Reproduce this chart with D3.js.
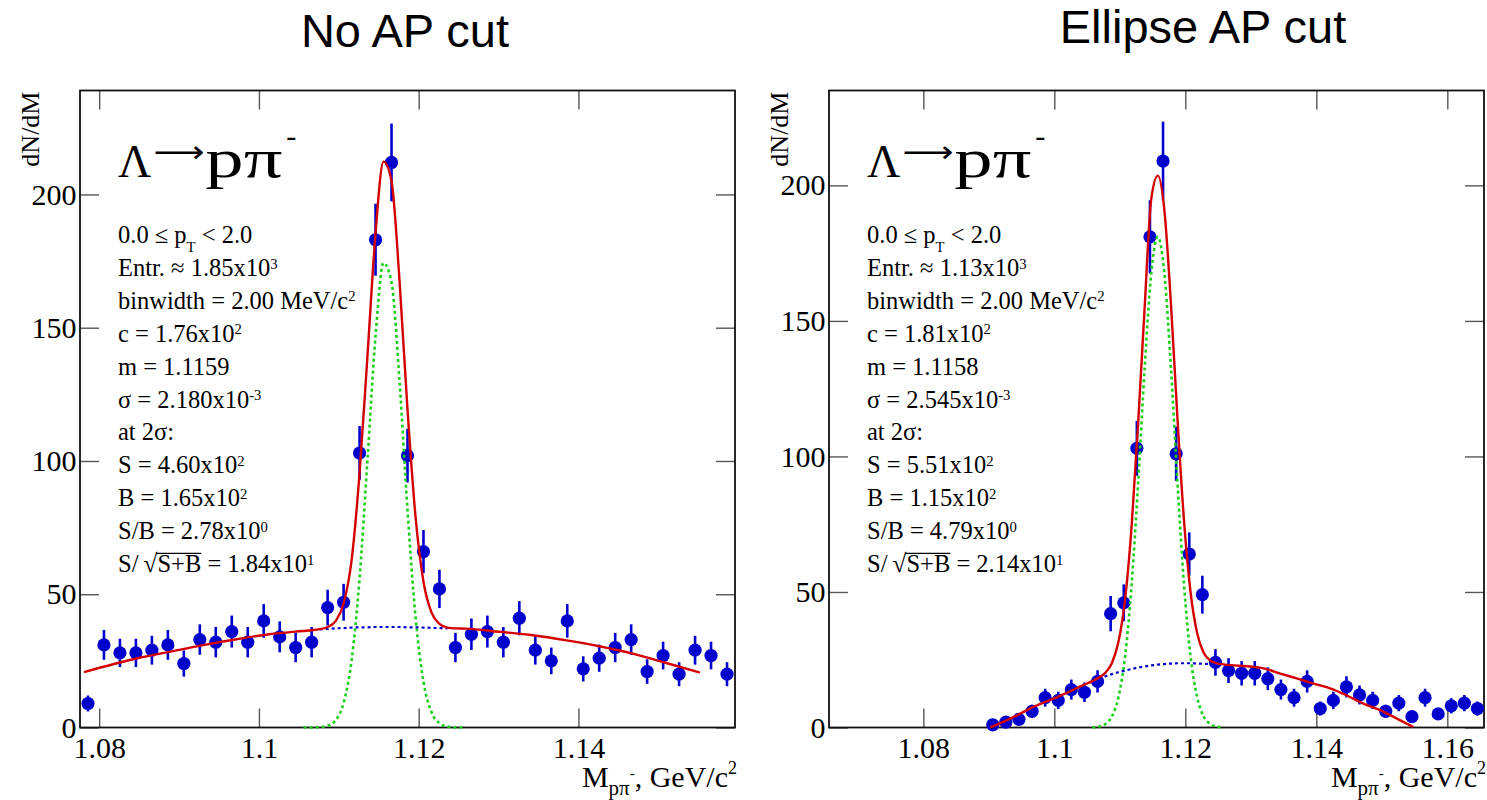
<!DOCTYPE html>
<html><head><meta charset="utf-8">
<script src="https://cdn.jsdelivr.net/npm/d3@7"></script>
<style>body{margin:0;background:#fff}text{white-space:pre}</style>
</head><body>
<svg id="c" width="1487" height="800"></svg>
<script>
// ---------------- data ----------------
const yTicks = [0, 50, 100, 150, 200];
const leftXTicks = [1.08, 1.1, 1.12, 1.14];
const rightXTicks = [1.08, 1.1, 1.12, 1.14, 1.16];

const leftCenters = [1.0786,1.0806,1.0826,1.0846,1.0866,1.0886,1.0906,1.0926,1.0946,1.0966,1.0986,1.1006,1.1026,1.1046,1.1066,1.1086,1.1106,1.1126,1.1146,1.1166,1.1186,1.1206,1.1226,1.1246,1.1266,1.1286,1.1306,1.1326,1.1346,1.1366,1.1386,1.1406,1.1426,1.1446,1.1466,1.1486,1.1506,1.1526,1.1546,1.1566,1.1586];
const leftCounts = [9,31,28,28,29,31,24,33,32,36,32,40,34,30,32,45,47,103,183,212,102,66,52,30,35,36,32,41,29,25,40,22,26,30,33,21,27,20,29,27,20];
const leftErrors = [3,5.6,5.3,5.3,5.4,5.6,4.9,5.7,5.7,6,5.7,6.3,5.8,5.5,5.7,6.7,6.9,10.1,13.5,14.6,10.1,8.1,7.2,5.5,5.9,6,5.7,6.4,5.4,5,6.3,4.7,5.1,5.5,5.7,4.6,5.2,4.5,5.4,5.2,4.5];

const rightCenters = [1.0906,1.0926,1.0946,1.0966,1.0986,1.1006,1.1026,1.1046,1.1066,1.1086,1.1106,1.1126,1.1146,1.1166,1.1186,1.1206,1.1226,1.1246,1.1266,1.1286,1.1306,1.1326,1.1346,1.1366,1.1386,1.1406,1.1426,1.1446,1.1466,1.1486,1.1506,1.1526,1.1546,1.1566,1.1586,1.1606,1.1626,1.1646];
const rightCounts = [1,2,3,6,11,10,14,13,17,42,46,103,181,209,101,64,49,24,21,20,20,18,14,11,17,7,10,15,12,10,6,9,4,11,5,8,9,7];
const rightErrors = [1,1.4,1.7,2.4,3.3,3.2,3.7,3.6,4.1,6.5,6.8,10.1,13.5,14.5,10,8,7,4.9,4.6,4.5,4.5,4.2,3.7,3.3,4.1,2.6,3.2,3.9,3.5,3.2,2.4,3,2,3.3,2.2,2.8,3,2.6];

// fit curves
const redLeftX = [1.0781,1.0847,1.0888,1.0930,1.0972,1.1013,1.1055,1.1066,1.1076,1.1086,1.1096,1.1106,1.1116,1.1126,1.1136,1.1146,1.1156,1.1166,1.1176,1.1186,1.1196,1.1206,1.1216,1.1226,1.1236,1.1246,1.1259,1.1301,1.1343,1.1385,1.1426,1.1468,1.1510,1.1552];
const redLeftY = [20.8,25.9,28.4,30.9,33.1,35.0,36.2,36.5,36.9,37.7,39.9,46.5,62.7,95.5,140,185.5,212.3,205,167.7,119.3,79.3,54.7,43.2,38.9,37.5,37.2,37.1,35.9,34.6,32.7,30.5,27.7,24.2,20.6];
const greenLeftX = [1.1056,1.1066,1.1076,1.1086,1.1096,1.1106,1.1116,1.1126,1.1136,1.1146,1.1156,1.1166,1.1176,1.1186,1.1196,1.1206,1.1216,1.1226,1.1236,1.1246,1.1256];
const greenLeftY = [0,0.02,0.12,0.65,2.7,9.2,25.2,56,100.9,147,174.3,167,130,81.7,41.7,17.2,5.8,1.6,0.34,0.06,0];
const blueLeftX = [1.1076,1.1086,1.1096,1.1106,1.1116,1.1126,1.1136,1.1146,1.1156,1.1166,1.1176,1.1186,1.1196,1.1206,1.1216,1.1226,1.1236];
const blueLeftY = [36.8,37.0,37.2,37.3,37.5,37.6,37.6,37.7,37.7,37.7,37.7,37.6,37.6,37.5,37.4,37.3,37.2];

const redRightX = [1.0902,1.0907,1.0943,1.0968,1.0993,1.1019,1.1044,1.1058,1.1068,1.1078,1.1088,1.1098,1.1108,1.1118,1.1128,1.1138,1.1148,1.1158,1.1168,1.1178,1.1188,1.1198,1.1208,1.1218,1.1228,1.1238,1.1248,1.1258,1.1269,1.1294,1.1320,1.1345,1.1370,1.1396,1.1421,1.1446,1.1472,1.1497,1.1523,1.1548];
const redRightY = [0,0.5,4.5,7.6,10.1,12.8,15.6,17.1,18.4,20.2,23.8,31.7,47.2,74.2,112.4,155.4,195,203.6,191,156.5,114,76.3,49.9,34.9,27.6,24.7,23.65,23.3,23.0,22.6,21.8,19.9,18.1,16.2,14.4,11.9,8.8,6.4,3.3,0.2];
const greenRightX = [1.1058,1.1068,1.1078,1.1088,1.1098,1.1108,1.1118,1.1128,1.1138,1.1148,1.1158,1.1168,1.1178,1.1188,1.1198,1.1208,1.1218,1.1228,1.1238,1.1248,1.1258];
const greenRightY = [0.08,0.35,1.3,4.1,11.3,26.2,52.6,90.3,132.9,167.6,181,167.6,132.9,90.3,52.6,26.2,11.3,4.1,1.3,0.35,0.08];
const blueRightX = [1.1068,1.1078,1.1088,1.1098,1.1108,1.1118,1.1128,1.1138,1.1148,1.1158,1.1168,1.1178,1.1188,1.1198,1.1208,1.1218,1.1228,1.1238,1.1248];
const blueRightY = [18.0,18.9,19.7,20.4,21.0,21.6,22.1,22.5,22.9,23.2,23.4,23.6,23.7,23.7,23.7,23.6,23.5,23.4,23.3];

// text
const leftTitle = "No AP cut";
const rightTitle = "Ellipse AP cut";
const yTitle = "dN/dM";
const xTitleParts = ["M", ["pπ","sub"], ["-","subsup"], ", GeV/c", ["2","sup"]];
const decayHead = "Λ", decayArrow = "⟶", decayTail = "pπ", decaySup = "-";
const leftStats = [
  ["0.0 ≤ p", ["T","sub"], " < 2.0"],
  ["Entr. ≈ 1.85x10", ["3","sup"]],
  ["binwidth = 2.00 MeV/c", ["2","sup"]],
  ["c = 1.76x10", ["2","sup"]],
  ["m = 1.1159"],
  ["σ = 2.180x10", ["-3","sup"]],
  ["at 2σ:"],
  ["S = 4.60x10", ["2","sup"]],
  ["B = 1.65x10", ["2","sup"]],
  ["S/B = 2.78x10", ["0","sup"]],
  ["S/\u2009", ["√","rad"], ["S+B","ovl"], " = 1.84x10", ["1","sup"]]
];
const rightStats = [
  ["0.0 ≤ p", ["T","sub"], " < 2.0"],
  ["Entr. ≈ 1.13x10", ["3","sup"]],
  ["binwidth = 2.00 MeV/c", ["2","sup"]],
  ["c = 1.81x10", ["2","sup"]],
  ["m = 1.1158"],
  ["σ = 2.545x10", ["-3","sup"]],
  ["at 2σ:"],
  ["S = 5.51x10", ["2","sup"]],
  ["B = 1.15x10", ["2","sup"]],
  ["S/B = 4.79x10", ["0","sup"]],
  ["S/\u2009", ["√","rad"], ["S+B","ovl"], " = 2.14x10", ["1","sup"]]
];

// ---------------- drawing ----------------
const SERIF = "'Liberation Serif','Times New Roman',Times,serif";
const SANS = "'Liberation Sans',Arial,Helvetica,sans-serif";
const svg = d3.select("#c");
const BLUE = "#0000cc", RED = "#d40000", GREEN = "#19d019";

function rich(sel, x, y, parts, size, o) {
  o = Object.assign({supS:0.6, supO:-0.3, subS:0.6, subO:0.38, ssS:0.5, ssO:-0.3, anchor:"start"}, o||{});
  const t = sel.append("text").attr("x", x).attr("y", y)
    .attr("font-family", SERIF).attr("font-size", size).attr("fill", "#000")
    .attr("text-anchor", o.anchor);
  let cur = 0; const ovl = [];
  parts.forEach(p => {
    const txt = typeof p === "string" ? p : p[0];
    const mode = typeof p === "string" ? "n" : p[1];
    let fs = size, off = 0;
    if (mode === "sup") { fs = size*o.supS; off = size*o.supO; }
    else if (mode === "sub") { fs = size*o.subS; off = size*o.subO; }
    else if (mode === "subsup") { fs = size*o.ssS; off = size*o.ssO; }
    else if (mode === "rad") { fs = size*1.05; off = 0; }
    const ts = t.append("tspan").attr("font-size", fs).attr("dy", off-cur).text(txt);
    cur = off;
    if (mode === "ovl") ovl.push(ts);
  });
  ovl.forEach(ts => {
    const n = ts.node(), L = ts.text().length;
    const x0 = n.getStartPositionOfChar(0).x - 1.5, x1 = n.getEndPositionOfChar(L-1).x;
    sel.append("line").attr("x1", x0).attr("x2", x1)
      .attr("y1", y - size*0.76).attr("y2", y - size*0.76)
      .attr("stroke", "#000").attr("stroke-width", 1.2);
  });
  return t;
}

function decay(x, y, size) {
  const a = svg.append("text").attr("x", x).attr("y", y).attr("font-family", SERIF)
    .attr("font-size", size).attr("fill", "#000").text(decayHead);
  let cx = x + a.node().getComputedTextLength() + 2;
  const arrowW = 51;
  const arr = svg.append("text").attr("x", 0).attr("y", 0)
    .attr("font-family", "'DejaVu Sans','DejaVu Serif',sans-serif")
    .attr("font-size", 30).attr("fill", "#000").text(decayArrow);
  const w = arr.node().getComputedTextLength() || arrowW;
  arr.attr("transform", `translate(${cx},${y - 15}) scale(${arrowW / w},1)`);
  cx += arrowW + 1;
  // product particles: drawn larger than Λ, as in the reference
  const tailW = 77;
  const t = svg.append("text").attr("x", 0).attr("y", 0).attr("font-family", SERIF)
    .attr("font-size", size * 1.2).attr("fill", "#000").text(decayTail);
  const tw = t.node().getComputedTextLength() || tailW;
  t.attr("transform", `translate(${cx},${y}) scale(${tailW / tw},1)`);
  cx += tailW + 4;
  svg.append("text").attr("x", cx).attr("y", y - 31).attr("font-family", SERIF)
    .attr("font-size", size * 0.66).attr("fill", "#000").text(decaySup);
}

function panel(cfg) {
  const g = svg.append("g");
  const x = d3.scaleLinear().domain(cfg.xDomain).range([cfg.fx0, cfg.fx1]);
  const y = d3.scaleLinear().domain([0, cfg.yMax]).range([cfg.fy1, cfg.fy0]);
  const TL = 19;

  const styleAxis = (a) => {
    a.select(".domain").remove();
    a.selectAll(".tick line").attr("stroke", "#555").attr("stroke-width", 1.4);
    a.selectAll(".tick text").attr("font-family", SERIF).attr("font-size", 30).attr("fill", "#000");
  };
  g.append("g").attr("transform", `translate(0,${cfg.fy1})`)
    .call(d3.axisBottom(x).tickValues(cfg.xTicks).tickSizeInner(-TL).tickSizeOuter(0).tickPadding(9).tickFormat(d => String(+d.toFixed(2))))
    .call(styleAxis);
  g.append("g").attr("transform", `translate(0,${cfg.fy0})`)
    .call(d3.axisTop(x).tickValues(cfg.xTicks).tickSizeInner(-TL).tickSizeOuter(0).tickFormat(""))
    .call(styleAxis);
  g.append("g").attr("transform", `translate(${cfg.fx0},0)`)
    .call(d3.axisLeft(y).tickValues(yTicks).tickSizeInner(-TL).tickSizeOuter(0).tickPadding(3.5))
    .call(styleAxis);
  g.append("g").attr("transform", `translate(${cfg.fx1},0)`)
    .call(d3.axisRight(y).tickValues(yTicks).tickSizeInner(-TL).tickSizeOuter(0).tickFormat(""))
    .call(styleAxis);

  g.append("rect").attr("x", cfg.fx0).attr("y", cfg.fy0)
    .attr("width", cfg.fx1-cfg.fx0).attr("height", cfg.fy1-cfg.fy0)
    .attr("fill", "none").attr("stroke", "#111").attr("stroke-width", 1.8);

  const pts = cfg.centers.map((c, i) => ({x: c, v: cfg.counts[i], e: cfg.errors[i]}));
  g.append("g").selectAll("line").data(pts).join("line")
    .attr("x1", d => x(d.x)).attr("x2", d => x(d.x))
    .attr("y1", d => y(d.v + d.e)).attr("y2", d => y(Math.max(0, d.v - d.e)))
    .attr("stroke", BLUE).attr("stroke-width", 2.6);
  g.append("g").selectAll("circle").data(pts).join("circle")
    .attr("cx", d => x(d.x)).attr("cy", d => y(d.v)).attr("r", 6.6).attr("fill", BLUE);

  const line = d3.line().x(d => x(d[0])).y(d => y(d[1])).curve(d3.curveMonotoneX);
  const zip = (a, b) => a.map((v, i) => [v, b[i]]);
  g.append("path").attr("d", line(zip(cfg.greenX, cfg.greenY))).attr("fill", "none")
    .attr("stroke", GREEN).attr("stroke-width", 2.6).attr("stroke-dasharray", "3,3");
  g.append("path").attr("d", line(zip(cfg.blueX, cfg.blueY))).attr("fill", "none")
    .attr("stroke", BLUE).attr("stroke-width", 2.2).attr("stroke-dasharray", "3,3");
  g.append("path").attr("d", line(zip(cfg.redX, cfg.redY))).attr("fill", "none")
    .attr("stroke", RED).attr("stroke-width", 2.4).attr("stroke-linejoin", "round");

  svg.append("text").attr("x", cfg.titleX).attr("y", cfg.titleY).attr("text-anchor", "middle")
    .attr("font-family", SANS).attr("font-size", 47).attr("fill", "#000").text(cfg.title);
  svg.append("text").attr("transform", `translate(${cfg.yTitleX},${cfg.fy0 + 1}) rotate(-90)`)
    .attr("text-anchor", "end").attr("font-family", SERIF).attr("font-size", 26).attr("fill", "#000").text(yTitle);
  rich(svg, cfg.fx1 + 2, 787, xTitleParts, 30, {anchor: "end", subS: 0.7, subO: 0.26, ssS: 0.5, ssO: -0.3, supS: 0.6, supO: -0.45});

  decay(cfg.textX, 177, 46);
  cfg.stats.forEach((parts, i) => rich(svg, cfg.textX, 243 + 32.9*i, parts, 24.5));
}

panel({fx0: 80, fx1: 735, fy0: 90.5, fy1: 727.5, xDomain: [1.0776, 1.1596], yMax: 239, xTicks: leftXTicks,
  centers: leftCenters, counts: leftCounts, errors: leftErrors,
  redX: redLeftX, redY: redLeftY, greenX: greenLeftX, greenY: greenLeftY, blueX: blueLeftX, blueY: blueLeftY,
  title: leftTitle, titleX: 405, titleY: 47, yTitleX: 39, textX: 118, stats: leftStats});
panel({fx0: 829, fx1: 1484, fy0: 90.5, fy1: 727.5, xDomain: [1.0656, 1.1656], yMax: 235, xTicks: rightXTicks,
  centers: rightCenters, counts: rightCounts, errors: rightErrors,
  redX: redRightX, redY: redRightY, greenX: greenRightX, greenY: greenRightY, blueX: blueRightX, blueY: blueRightY,
  title: rightTitle, titleX: 1203, titleY: 43, yTitleX: 788, textX: 867, stats: rightStats});
</script></body></html>
